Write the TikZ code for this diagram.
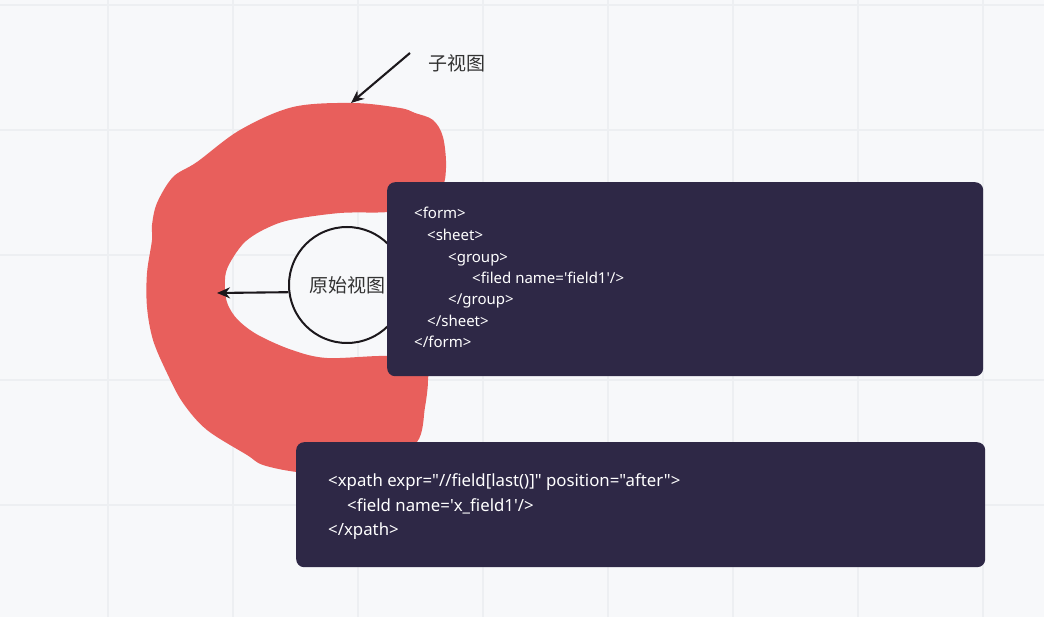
\documentclass[tikz,border=0pt]{standalone}
\usepackage{fontspec}
\setmainfont{Noto Sans}
\newfontfamily\codefont{Noto Sans}
\newfontfamily\cjk{Noto Sans CJK SC}
\usepackage{tikz}
\usetikzlibrary{arrows.meta}

\definecolor{canvas}{HTML}{F7F8FA}
\definecolor{gridline}{HTML}{EDEFF2}
\definecolor{blobred}{HTML}{E85F5C}
\definecolor{codebg}{HTML}{2E2846}
\definecolor{ink}{HTML}{1C181C}
\definecolor{labelgray}{HTML}{333333}

\begin{document}
\begin{tikzpicture}[x=1pt, y=-1pt,
    arr/.style = {draw=ink, line width=2.1pt, -{Stealth[length=13pt, width=11pt]}},
    codebox/.style = {fill=codebg, rounded corners=8pt, anchor=north west, inner sep=0pt},
    codeline/.style = {anchor=west, inner sep=0pt, text=white, text height=11pt, text depth=3pt, font=\codefont\fontsize{15}{18}\selectfont},
    xpathline/.style = {anchor=west, inner sep=0pt, text=white, text height=12pt, text depth=4pt, font=\codefont\fontsize{16.8}{20}\selectfont},
    cnlabel/.style = {text=labelgray, font=\cjk\fontsize{19}{22}\selectfont}]
    \useasboundingbox (0,0) rectangle (1044,617);
    \fill[canvas] (0,0) rectangle (1044,617);
    \foreach \gx in {108,233,...,984} \draw[gridline, line width=1.3pt] (\gx,0) -- (\gx,617);
    \foreach \gy in {5,130,...,505} \draw[gridline, line width=1.3pt] (0,\gy) -- (1044,\gy);
    % red scribble
    \fill[blobred] plot[smooth cycle, tension=0.55] coordinates {
        (353,103) (400,108) (415,113) (433,120) (443,137) (446,168) (440,190) (410,205)
        (388,212) (340,213) (290,220) (265,229) (246,241) (234,256) (226,272) (225,290)
        (228,305) (238,320) (258,335) (292,350) (327,358) (387,356) (425,362) (428,380)
        (425,407) (417,442) (380,465) (330,472) (297,472) (263,465) (247,455) (207,430)
        (183,403) (167,373) (153,340) (147,307) (147,273) (152,240) (152,225) (157,203)
        (173,177) (197,162) (240,130) (293,107)};
    % views
    \node[circle, draw=ink, line width=2pt, fill=canvas, minimum size=116pt, inner sep=0pt, cnlabel] (ring) at (347,285) {原始视图};
    \coordinate (origtip) at (217,293);
    \draw[arr] (ring.187) -- (origtip);
    \node[cnlabel] (sublbl) at (457,63) {子视图};
    \coordinate (subtail) at (410,53);
    \coordinate (subtip) at (351,103);
    \draw[arr] (subtail) -- (subtip);
    % code boxes
    \node[codebox, minimum width=596pt, minimum height=194pt] (formbox) at (387,182) {};
    \node[codeline] (f1) at (414,215) {<form>};
    \node[codeline] (f2) at (427,237) {<sheet>};
    \node[codeline] (f3) at (448,259) {<group>};
    \node[codeline] (f4) at (472,280) {<filed name='field1'/>};
    \node[codeline] (f5) at (448,301) {</group>};
    \node[codeline] (f6) at (427,323) {</sheet>};
    \node[codeline] (f7) at (414,344) {</form>};
    \node[codebox, minimum width=689pt, minimum height=125pt] (xpathbox) at (296,442) {};
    \node[xpathline] (x1) at (328,482) {<xpath expr="//field[last()]" position="after">};
    \node[xpathline] (x2) at (347,507) {<field name='x\_field1'/>};
    \node[xpathline] (x3) at (328,531) {</xpath>};
\end{tikzpicture}
\end{document}
